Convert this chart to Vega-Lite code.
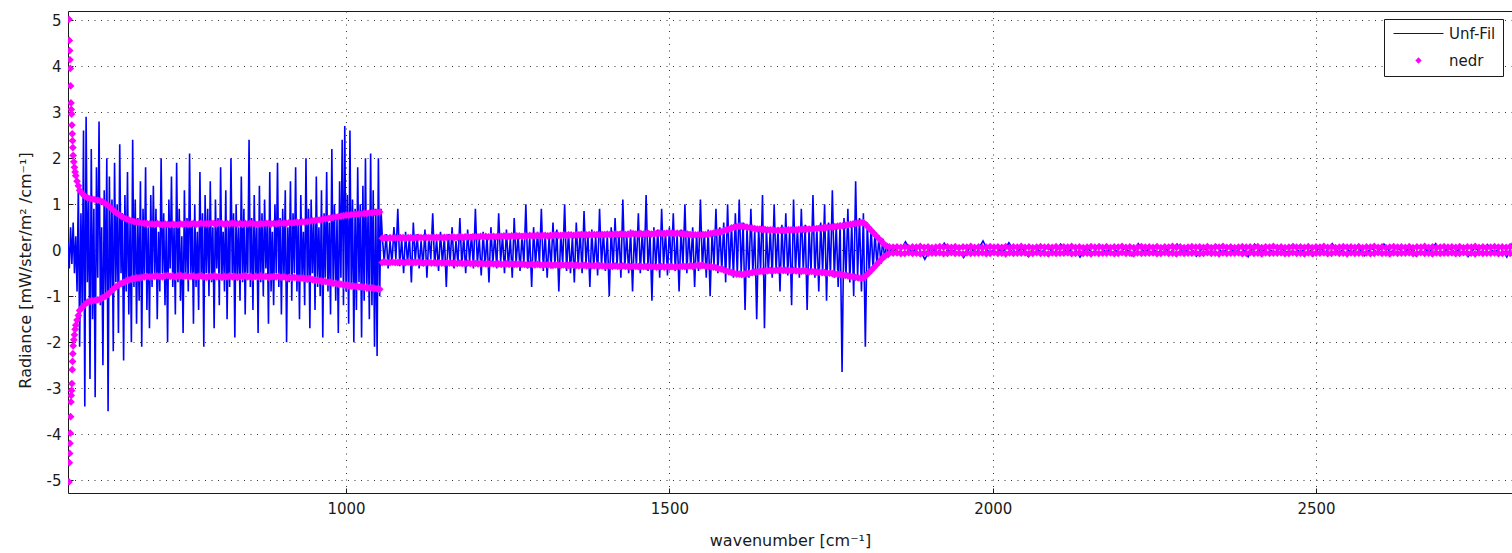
{
"$schema": "https://vega.github.io/schema/vega-lite/v6.json",
"width": 1444, "height": 482,
"autosize": {"type": "none"},
"padding": {"left": 68, "top": 11, "right": 0, "bottom": 60},
"background": "white",
"config": {
 "view": {"stroke": "#1a1a1a", "strokeWidth": 1},
 "font": "DejaVu Sans",
 "axis": {"grid": true, "gridDash": [1, 5.5], "gridColor": "#333", "gridWidth": 1, "domain": false, "ticks": true, "tickSize": -5, "tickColor": "#1a1a1a", "labelFontSize": 15, "labelColor": "#1a1a1a", "titleFontSize": 16, "titleFontWeight": "normal", "titleColor": "#1a1a1a", "labelFont": "DejaVu Sans", "titleFont": "DejaVu Sans", "labelExpr": "'' + datum.value"},
 "legend": {"title": null, "orient": "none", "legendX": 1316, "legendY": 8, "padding": 7, "strokeColor": "#1a1a1a", "fillColor": "white", "cornerRadius": 0, "symbolType": "stroke", "symbolSize": 100, "symbolOffset": 20, "symbolStrokeWidth": 0, "labelFontSize": 15, "labelColor": "#1a1a1a", "labelFont": "DejaVu Sans", "labelOffset": 23, "rowPadding": 11}
},
"datasets": {
"sig": [
{"w":570,"r":0.2},{"w":572,"r":-0.4},{"w":574,"r":0.5},{"w":576,"r":-0.3},{"w":578,"r":0.6},{"w":580,"r":-0.5},{"w":582,"r":0.3},{"w":584,"r":-0.9},
{"w":586,"r":1.4},{"w":588,"r":-2.1},{"w":590,"r":0.8},{"w":592,"r":-1.3},{"w":594,"r":2.6},{"w":596,"r":-3.4},{"w":598,"r":2.9},{"w":600,"r":-0.7},{"w":602,"r":1.1},{"w":604,"r":-2.8},{"w":606,"r":2.2},{"w":608,"r":-1.5},{"w":610,"r":0.9},{"w":612,"r":-3.2},{"w":614,"r":1.8},{"w":616,"r":-0.6},{"w":618,"r":2.8},{"w":620,"r":-1.2},{"w":622,"r":0.5},{"w":624,"r":-2.5},{"w":626,"r":1.3},{"w":628,"r":-1.0},{"w":630,"r":2.0},{"w":632,"r":-3.5},{"w":634,"r":1.6},{"w":636,"r":-0.9},{"w":638,"r":1.1},{"w":640,"r":-2.2},
{"w":642,"r":1.9},{"w":644,"r":-0.7},{"w":646,"r":1.0},{"w":648,"r":-1.8},{"w":650,"r":2.3},{"w":652,"r":-0.5},{"w":654,"r":0.8},{"w":656,"r":-2.4},{"w":658,"r":1.2},{"w":660,"r":-0.9},{"w":662,"r":1.7},{"w":664,"r":-1.4},{"w":666,"r":0.6},{"w":668,"r":-2.0},{"w":670,"r":2.4},{"w":672,"r":-0.8},{"w":674,"r":1.1},{"w":676,"r":-1.6},{"w":678,"r":0.7},{"w":680,"r":-1.1},{"w":682,"r":1.5},{"w":684,"r":-2.1},{"w":686,"r":0.9},{"w":688,"r":-0.6},{"w":690,"r":1.8},{"w":692,"r":-1.3},{"w":694,"r":0.5},{"w":696,"r":-1.7},{"w":698,"r":1.2},{"w":700,"r":-0.8},
{"w":702,"r":1.4},{"w":704,"r":-0.6},{"w":706,"r":0.9},{"w":708,"r":-1.5},{"w":710,"r":0.4},{"w":712,"r":-0.9},{"w":714,"r":2.0},{"w":716,"r":-0.5},{"w":718,"r":0.8},{"w":720,"r":-1.2},
{"w":722,"r":0.6},{"w":724,"r":-2.0},{"w":726,"r":1.1},{"w":728,"r":-0.4},{"w":730,"r":1.6},{"w":732,"r":-0.8},{"w":734,"r":0.5},{"w":736,"r":-1.4},{"w":738,"r":1.9},{"w":740,"r":-0.7},
{"w":742,"r":0.9},{"w":744,"r":-1.1},{"w":746,"r":0.3},{"w":748,"r":-1.8},{"w":750,"r":1.3},{"w":752,"r":-0.6},{"w":754,"r":0.7},{"w":756,"r":-0.9},{"w":758,"r":2.1},{"w":760,"r":-0.5},
{"w":762,"r":0.6},{"w":764,"r":-1.6},{"w":766,"r":1.0},{"w":768,"r":-0.8},{"w":770,"r":0.4},{"w":772,"r":-1.3},{"w":774,"r":1.7},{"w":776,"r":-0.6},{"w":778,"r":0.8},{"w":780,"r":-2.1},
{"w":782,"r":1.2},{"w":784,"r":-0.5},{"w":786,"r":0.9},{"w":788,"r":-1.0},{"w":790,"r":1.5},{"w":792,"r":-0.7},{"w":794,"r":0.5},{"w":796,"r":-1.7},{"w":798,"r":1.1},{"w":800,"r":-0.4},
{"w":802,"r":0.7},{"w":804,"r":-1.2},{"w":806,"r":1.8},{"w":808,"r":-0.6},{"w":810,"r":0.4},{"w":812,"r":-0.9},{"w":814,"r":1.3},{"w":816,"r":-1.5},{"w":818,"r":0.6},{"w":820,"r":-0.8},
{"w":822,"r":2.0},{"w":824,"r":-0.5},{"w":826,"r":0.8},{"w":828,"r":-1.9},{"w":830,"r":1.0},{"w":832,"r":-0.6},{"w":834,"r":0.5},{"w":836,"r":-1.1},{"w":838,"r":1.6},{"w":840,"r":-0.7},
{"w":842,"r":0.9},{"w":844,"r":-1.4},{"w":846,"r":0.6},{"w":848,"r":-0.5},{"w":850,"r":2.4},{"w":852,"r":-0.8},{"w":854,"r":0.7},{"w":856,"r":-1.3},{"w":858,"r":1.2},{"w":860,"r":-0.6},
{"w":862,"r":0.5},{"w":864,"r":-1.8},{"w":866,"r":1.4},{"w":868,"r":-0.7},{"w":870,"r":0.8},{"w":872,"r":-1.0},{"w":874,"r":1.1},{"w":876,"r":-0.4},{"w":878,"r":0.6},{"w":880,"r":-1.6},
{"w":882,"r":1.7},{"w":884,"r":-0.9},{"w":886,"r":0.4},{"w":888,"r":-1.2},{"w":890,"r":1.0},{"w":892,"r":-0.5},{"w":894,"r":1.9},{"w":896,"r":-0.8},{"w":898,"r":0.7},{"w":900,"r":-1.4},
{"w":902,"r":0.9},{"w":904,"r":-0.6},{"w":906,"r":1.3},{"w":908,"r":-2.0},{"w":910,"r":0.5},{"w":912,"r":-0.7},{"w":914,"r":1.5},{"w":916,"r":-1.1},{"w":918,"r":0.8},{"w":920,"r":-0.5},
{"w":922,"r":1.8},{"w":924,"r":-0.9},{"w":926,"r":0.6},{"w":928,"r":-1.5},{"w":930,"r":1.2},{"w":932,"r":-0.6},{"w":934,"r":0.4},{"w":936,"r":-1.2},{"w":938,"r":2.0},{"w":940,"r":-0.7},
{"w":942,"r":0.9},{"w":944,"r":-1.7},{"w":946,"r":1.1},{"w":948,"r":-0.5},{"w":950,"r":0.7},{"w":952,"r":-1.3},{"w":954,"r":1.6},{"w":956,"r":-0.8},{"w":958,"r":0.5},{"w":960,"r":-1.0},
{"w":962,"r":1.3},{"w":964,"r":-1.9},{"w":966,"r":0.8},{"w":968,"r":-0.6},{"w":970,"r":1.7},{"w":972,"r":-0.9},{"w":974,"r":0.6},{"w":976,"r":-1.4},{"w":978,"r":2.2},{"w":980,"r":-0.7},
{"w":982,"r":1.0},{"w":984,"r":-1.1},{"w":986,"r":0.7},{"w":988,"r":-1.8},{"w":990,"r":1.5},{"w":992,"r":-0.6},{"w":994,"r":2.4},{"w":996,"r":-1.2},{"w":998,"r":2.7},{"w":1000,"r":-0.9},
{"w":1002,"r":1.2},{"w":1004,"r":-1.6},{"w":1006,"r":2.6},{"w":1008,"r":-0.8},{"w":1010,"r":1.1},{"w":1012,"r":-2.0},{"w":1014,"r":0.9},{"w":1016,"r":-1.3},{"w":1018,"r":1.8},{"w":1020,"r":-0.7},
{"w":1022,"r":1.0},{"w":1024,"r":-1.9},{"w":1026,"r":1.4},{"w":1028,"r":-1.1},{"w":1030,"r":2.0},{"w":1032,"r":-0.9},{"w":1034,"r":0.8},{"w":1036,"r":-1.5},{"w":1038,"r":2.1},{"w":1040,"r":-1.2},
{"w":1042,"r":1.3},{"w":1044,"r":-2.1},{"w":1046,"r":0.9},{"w":1048,"r":-2.3},{"w":1050,"r":2.0},{"w":1052,"r":-1.0},{"w":1054,"r":0.9},
{"w":1056,"r":0.3},{"w":1059,"r":-0.25},{"w":1062,"r":0.35},{"w":1065,"r":-0.4},{"w":1068,"r":0.2},{"w":1071,"r":-0.3},{"w":1074,"r":0.5},{"w":1077,"r":-0.2},{"w":1080,"r":0.9},{"w":1083,"r":-0.35},
{"w":1086,"r":0.25},{"w":1089,"r":-0.5},{"w":1092,"r":0.4},{"w":1095,"r":-0.3},{"w":1098,"r":0.3},{"w":1101,"r":-0.7},{"w":1104,"r":0.6},{"w":1107,"r":-0.25},{"w":1110,"r":0.35},{"w":1113,"r":-0.4},
{"w":1116,"r":0.2},{"w":1119,"r":-0.35},{"w":1122,"r":0.45},{"w":1125,"r":-0.6},{"w":1128,"r":0.3},{"w":1131,"r":-0.2},{"w":1134,"r":0.8},{"w":1137,"r":-0.35},{"w":1140,"r":0.25},{"w":1143,"r":-0.45},
{"w":1146,"r":0.4},{"w":1149,"r":-0.3},{"w":1152,"r":0.3},{"w":1155,"r":-0.8},{"w":1158,"r":0.35},{"w":1161,"r":-0.25},{"w":1164,"r":0.5},{"w":1167,"r":-0.4},{"w":1170,"r":0.2},{"w":1173,"r":-0.3},
{"w":1176,"r":0.7},{"w":1179,"r":-0.35},{"w":1182,"r":0.3},{"w":1185,"r":-0.5},{"w":1188,"r":0.45},{"w":1191,"r":-0.25},{"w":1194,"r":0.35},{"w":1197,"r":-0.4},{"w":1200,"r":0.9},{"w":1203,"r":-0.3},
{"w":1206,"r":0.25},{"w":1209,"r":-0.55},{"w":1212,"r":0.4},{"w":1215,"r":-0.35},{"w":1218,"r":0.3},{"w":1221,"r":-0.7},{"w":1224,"r":0.5},{"w":1227,"r":-0.3},{"w":1230,"r":0.35},{"w":1233,"r":-0.4},
{"w":1236,"r":0.8},{"w":1239,"r":-0.25},{"w":1242,"r":0.3},{"w":1245,"r":-0.5},{"w":1248,"r":0.45},{"w":1251,"r":-0.35},{"w":1254,"r":0.25},{"w":1257,"r":-0.6},{"w":1260,"r":0.7},{"w":1263,"r":-0.3},
{"w":1266,"r":0.35},{"w":1269,"r":-0.45},{"w":1272,"r":0.3},{"w":1275,"r":-0.3},{"w":1278,"r":1.0},{"w":1281,"r":-0.4},{"w":1284,"r":0.3},{"w":1287,"r":-0.8},{"w":1290,"r":0.5},{"w":1293,"r":-0.35},
{"w":1296,"r":0.4},{"w":1299,"r":-0.3},{"w":1302,"r":0.9},{"w":1305,"r":-0.45},{"w":1308,"r":0.35},{"w":1311,"r":-0.6},{"w":1314,"r":0.3},{"w":1317,"r":-0.4},{"w":1320,"r":0.6},{"w":1323,"r":-0.35},
{"w":1326,"r":0.45},{"w":1329,"r":-0.9},{"w":1332,"r":0.35},{"w":1335,"r":-0.3},{"w":1338,"r":1.0},{"w":1341,"r":-0.45},{"w":1344,"r":0.4},{"w":1347,"r":-0.5},{"w":1350,"r":0.3},{"w":1353,"r":-0.7},
{"w":1356,"r":0.6},{"w":1359,"r":-0.35},{"w":1362,"r":0.4},{"w":1365,"r":-0.5},{"w":1368,"r":0.85},{"w":1371,"r":-0.3},{"w":1374,"r":0.35},{"w":1377,"r":-0.8},{"w":1380,"r":0.45},{"w":1383,"r":-0.4},
{"w":1386,"r":0.3},{"w":1389,"r":-0.55},{"w":1392,"r":0.9},{"w":1395,"r":-0.35},{"w":1398,"r":0.4},{"w":1401,"r":-0.45},{"w":1404,"r":0.35},{"w":1407,"r":-1.0},{"w":1410,"r":0.5},{"w":1413,"r":-0.4},
{"w":1416,"r":0.7},{"w":1419,"r":-0.35},{"w":1422,"r":0.4},{"w":1425,"r":-0.6},{"w":1428,"r":1.1},{"w":1431,"r":-0.4},{"w":1434,"r":0.35},{"w":1437,"r":-0.5},{"w":1440,"r":0.45},{"w":1443,"r":-0.9},
{"w":1446,"r":0.4},{"w":1449,"r":-0.35},{"w":1452,"r":0.8},{"w":1455,"r":-0.5},{"w":1458,"r":0.4},{"w":1461,"r":-0.4},{"w":1464,"r":1.2},{"w":1467,"r":-0.45},{"w":1470,"r":0.35},{"w":1473,"r":-1.1},
{"w":1476,"r":0.5},{"w":1479,"r":-0.4},{"w":1482,"r":0.45},{"w":1485,"r":-0.6},{"w":1488,"r":0.9},{"w":1491,"r":-0.35},{"w":1494,"r":0.4},{"w":1497,"r":-0.55},{"w":1500,"r":0.5},{"w":1503,"r":-0.4},
{"w":1506,"r":0.8},{"w":1509,"r":-0.45},{"w":1512,"r":0.35},{"w":1515,"r":-0.9},{"w":1518,"r":0.45},{"w":1521,"r":-0.35},{"w":1524,"r":1.0},{"w":1527,"r":-0.5},{"w":1530,"r":0.4},{"w":1533,"r":-0.4},
{"w":1536,"r":0.5},{"w":1539,"r":-0.8},{"w":1542,"r":0.35},{"w":1545,"r":-0.45},{"w":1548,"r":1.1},{"w":1551,"r":-0.4},{"w":1554,"r":0.4},{"w":1557,"r":-0.6},{"w":1560,"r":0.45},{"w":1563,"r":-1.0},
{"w":1566,"r":0.4},{"w":1569,"r":-0.35},{"w":1572,"r":0.9},{"w":1575,"r":-0.5},{"w":1578,"r":0.5},{"w":1581,"r":-0.45},{"w":1584,"r":0.6},{"w":1587,"r":-0.7},{"w":1590,"r":1.0},{"w":1593,"r":-0.5},
{"w":1596,"r":0.55},{"w":1599,"r":-0.6},{"w":1602,"r":0.8},{"w":1605,"r":-0.55},{"w":1608,"r":1.1},{"w":1611,"r":-0.5},{"w":1614,"r":0.6},{"w":1617,"r":-1.3},{"w":1620,"r":0.5},{"w":1623,"r":-0.6},
{"w":1626,"r":0.9},{"w":1629,"r":-0.5},{"w":1632,"r":0.45},{"w":1635,"r":-1.5},{"w":1638,"r":0.5},{"w":1641,"r":-0.45},{"w":1644,"r":1.2},{"w":1647,"r":-1.7},{"w":1650,"r":0.5},{"w":1653,"r":-0.5},
{"w":1656,"r":0.45},{"w":1659,"r":-0.6},{"w":1662,"r":1.0},{"w":1665,"r":-0.45},{"w":1668,"r":0.5},{"w":1671,"r":-0.9},{"w":1674,"r":0.55},{"w":1677,"r":-0.5},{"w":1680,"r":0.8},{"w":1683,"r":-0.55},
{"w":1686,"r":0.45},{"w":1689,"r":-1.2},{"w":1692,"r":1.1},{"w":1695,"r":-0.5},{"w":1698,"r":0.5},{"w":1701,"r":-0.6},{"w":1704,"r":0.9},{"w":1707,"r":-0.45},{"w":1710,"r":0.55},{"w":1713,"r":-1.3},
{"w":1716,"r":0.5},{"w":1719,"r":-0.5},{"w":1722,"r":1.2},{"w":1725,"r":-0.6},{"w":1728,"r":0.5},{"w":1731,"r":-0.9},{"w":1734,"r":0.6},{"w":1737,"r":-0.5},{"w":1740,"r":1.0},{"w":1743,"r":-1.1},
{"w":1746,"r":0.6},{"w":1749,"r":-0.55},{"w":1752,"r":1.3},{"w":1755,"r":-0.6},{"w":1758,"r":0.55},{"w":1761,"r":-0.8},{"w":1764,"r":0.6},{"w":1767,"r":-2.65},{"w":1770,"r":0.7},{"w":1773,"r":-0.6},
{"w":1776,"r":0.9},{"w":1779,"r":-0.7},{"w":1782,"r":0.6},{"w":1785,"r":-1.0},{"w":1788,"r":1.5},{"w":1791,"r":-0.6},{"w":1794,"r":0.7},{"w":1797,"r":-0.9},{"w":1800,"r":0.8},{"w":1803,"r":-2.1},
{"w":1806,"r":0.6},{"w":1809,"r":-0.5},{"w":1812,"r":0.5},{"w":1815,"r":-0.45},{"w":1818,"r":0.4},{"w":1821,"r":-0.35},{"w":1824,"r":0.3},{"w":1827,"r":-0.3},{"w":1830,"r":0.25},{"w":1833,"r":-0.2},
{"w":1836,"r":0.15},{"w":1839,"r":-0.12},
{"w":1845,"r":0.08},{"w":1855,"r":-0.06},{"w":1865,"r":0.18},{"w":1875,"r":-0.05},{"w":1885,"r":0.07},{"w":1895,"r":-0.2},{"w":1905,"r":0.06},{"w":1915,"r":-0.05},{"w":1925,"r":0.15},{"w":1935,"r":-0.07},
{"w":1945,"r":0.05},{"w":1955,"r":-0.16},{"w":1965,"r":0.06},{"w":1975,"r":-0.05},{"w":1985,"r":0.2},{"w":1995,"r":-0.08},{"w":2005,"r":0.06},{"w":2015,"r":-0.05},{"w":2025,"r":0.16},{"w":2035,"r":-0.06},
{"w":2045,"r":0.05},{"w":2055,"r":-0.14},{"w":2065,"r":0.07},{"w":2075,"r":-0.05},{"w":2085,"r":0.06},{"w":2095,"r":-0.06},{"w":2105,"r":0.13},{"w":2115,"r":-0.05},{"w":2125,"r":0.06},{"w":2135,"r":-0.15},
{"w":2145,"r":0.05},{"w":2155,"r":-0.06},{"w":2165,"r":0.12},{"w":2175,"r":-0.05},{"w":2185,"r":0.06},{"w":2195,"r":-0.07},{"w":2205,"r":0.05},{"w":2215,"r":-0.12},{"w":2225,"r":0.14},{"w":2235,"r":-0.05},
{"w":2245,"r":0.06},{"w":2255,"r":-0.06},{"w":2265,"r":0.05},{"w":2275,"r":-0.05},{"w":2285,"r":0.13},{"w":2295,"r":-0.06},{"w":2305,"r":0.05},{"w":2315,"r":-0.13},{"w":2325,"r":0.06},{"w":2335,"r":-0.05},
{"w":2345,"r":0.12},{"w":2355,"r":-0.06},{"w":2365,"r":0.05},{"w":2375,"r":-0.05},{"w":2385,"r":0.06},{"w":2395,"r":-0.14},{"w":2405,"r":0.13},{"w":2415,"r":-0.05},{"w":2425,"r":0.06},{"w":2435,"r":-0.06},
{"w":2445,"r":0.05},{"w":2455,"r":-0.05},{"w":2465,"r":0.12},{"w":2475,"r":-0.06},{"w":2485,"r":0.06},{"w":2495,"r":-0.13},{"w":2505,"r":0.05},{"w":2515,"r":-0.05},{"w":2525,"r":0.14},{"w":2535,"r":-0.06},
{"w":2545,"r":0.05},{"w":2555,"r":-0.05},{"w":2565,"r":0.06},{"w":2575,"r":-0.12},{"w":2585,"r":0.05},{"w":2595,"r":-0.06},{"w":2605,"r":0.13},{"w":2615,"r":-0.05},{"w":2625,"r":0.06},{"w":2635,"r":-0.05},
{"w":2645,"r":0.05},{"w":2655,"r":-0.13},{"w":2665,"r":0.06},{"w":2675,"r":-0.05},{"w":2685,"r":0.14},{"w":2695,"r":-0.06},{"w":2705,"r":0.05},{"w":2715,"r":-0.05},{"w":2725,"r":0.06},{"w":2735,"r":-0.14},
{"w":2745,"r":0.05},{"w":2755,"r":-0.05},{"w":2765,"r":0.12},{"w":2775,"r":-0.06},{"w":2785,"r":0.06},{"w":2795,"r":-0.15},{"w":2805,"r":0.2}
],
"ne": [
{"w":571.5,"p":5.02,"m":-5.04},{"w":572,"p":4.56,"m":-4.62},{"w":572.5,"p":4.34,"m":-4.42},{"w":573,"p":4.14,"m":-4.2},{"w":573.5,"p":3.95,"m":-3.98},{"w":574,"p":3.57,"m":-3.62},{"w":574.5,"p":3.2,"m":-3.3},{"w":575,"p":3.06,"m":-3.16},{"w":575.5,"p":2.96,"m":-3.05},{"w":576,"p":2.72,"m":-2.9},{"w":576.5,"p":2.53,"m":-2.6},{"w":577,"p":2.38,"m":-2.42},{"w":577.5,"p":2.23,"m":-2.25},{"w":578,"p":2.06,"m":-2.08},{"w":579,"p":1.92,"m":-1.95},{"w":580,"p":1.8,"m":-1.84},{"w":581,"p":1.7,"m":-1.72},{"w":582,"p":1.62,"m":-1.63},{"w":584,"p":1.5,"m":-1.52},{"w":586,"p":1.4,"m":-1.42},
{"w":588,"p":1.3,"m":-1.31},{"w":592,"p":1.23,"m":-1.24},{"w":596,"p":1.17,"m":-1.18},{"w":600,"p":1.14,"m":-1.13},{"w":604,"p":1.12,"m":-1.11},{"w":608,"p":1.11,"m":-1.1},{"w":612,"p":1.1,"m":-1.09},{"w":616,"p":1.09,"m":-1.08},{"w":620,"p":1.07,"m":-1.06},{"w":624,"p":1.05,"m":-1.03},{"w":628,"p":1.01,"m":-1.0},{"w":632,"p":0.97,"m":-0.96},{"w":636,"p":0.92,"m":-0.9},{"w":640,"p":0.87,"m":-0.85},{"w":644,"p":0.82,"m":-0.8},{"w":648,"p":0.78,"m":-0.76},{"w":652,"p":0.74,"m":-0.73},{"w":656,"p":0.71,"m":-0.7},{"w":660,"p":0.68,"m":-0.67},{"w":664,"p":0.66,"m":-0.65},{"w":668,"p":0.64,"m":-0.63},{"w":672,"p":0.62,"m":-0.62},{"w":676,"p":0.61,"m":-0.6},{"w":680,"p":0.6,"m":-0.6},{"w":684,"p":0.59,"m":-0.59},{"w":688,"p":0.58,"m":-0.58},{"w":692,"p":0.58,"m":-0.57},{"w":696,"p":0.57,"m":-0.58},
{"w":700,"p":0.57,"m":-0.58},{"w":704,"p":0.56,"m":-0.57},{"w":708,"p":0.58,"m":-0.56},{"w":712,"p":0.56,"m":-0.57},{"w":716,"p":0.55,"m":-0.58},{"w":720,"p":0.57,"m":-0.56},{"w":724,"p":0.56,"m":-0.55},{"w":728,"p":0.55,"m":-0.57},{"w":732,"p":0.57,"m":-0.56},{"w":736,"p":0.56,"m":-0.58},{"w":740,"p":0.55,"m":-0.56},{"w":744,"p":0.57,"m":-0.55},{"w":748,"p":0.56,"m":-0.57},{"w":752,"p":0.58,"m":-0.56},{"w":756,"p":0.56,"m":-0.58},{"w":760,"p":0.57,"m":-0.57},{"w":764,"p":0.58,"m":-0.56},{"w":768,"p":0.56,"m":-0.58},{"w":772,"p":0.57,"m":-0.57},{"w":776,"p":0.59,"m":-0.56},{"w":780,"p":0.57,"m":-0.58},{"w":784,"p":0.58,"m":-0.59},{"w":788,"p":0.57,"m":-0.57},{"w":792,"p":0.59,"m":-0.58},{"w":796,"p":0.58,"m":-0.56},{"w":800,"p":0.57,"m":-0.58},{"w":804,"p":0.59,"m":-0.57},{"w":808,"p":0.58,"m":-0.59},{"w":812,"p":0.56,"m":-0.57},{"w":816,"p":0.58,"m":-0.58},{"w":820,"p":0.57,"m":-0.56},{"w":824,"p":0.59,"m":-0.58},{"w":828,"p":0.58,"m":-0.57},{"w":832,"p":0.57,"m":-0.59},{"w":836,"p":0.58,"m":-0.58},{"w":840,"p":0.56,"m":-0.57},{"w":844,"p":0.58,"m":-0.56},{"w":848,"p":0.57,"m":-0.58},{"w":852,"p":0.59,"m":-0.57},{"w":856,"p":0.58,"m":-0.59},{"w":860,"p":0.57,"m":-0.57},{"w":864,"p":0.56,"m":-0.58},{"w":868,"p":0.58,"m":-0.56},{"w":872,"p":0.57,"m":-0.58},{"w":876,"p":0.59,"m":-0.57},{"w":880,"p":0.58,"m":-0.59},{"w":884,"p":0.57,"m":-0.58},{"w":888,"p":0.58,"m":-0.57},{"w":892,"p":0.57,"m":-0.58},{"w":896,"p":0.59,"m":-0.57},{"w":900,"p":0.58,"m":-0.59},{"w":904,"p":0.59,"m":-0.58},{"w":908,"p":0.58,"m":-0.6},{"w":912,"p":0.6,"m":-0.59},{"w":916,"p":0.59,"m":-0.6},{"w":920,"p":0.6,"m":-0.59},{"w":924,"p":0.61,"m":-0.6},{"w":928,"p":0.6,"m":-0.61},{"w":932,"p":0.62,"m":-0.61},{"w":936,"p":0.61,"m":-0.62},{"w":940,"p":0.62,"m":-0.63},{"w":944,"p":0.63,"m":-0.62},{"w":948,"p":0.64,"m":-0.64},{"w":952,"p":0.64,"m":-0.65},{"w":956,"p":0.66,"m":-0.65},{"w":960,"p":0.66,"m":-0.67},{"w":964,"p":0.67,"m":-0.68},{"w":968,"p":0.68,"m":-0.68},{"w":972,"p":0.69,"m":-0.7},{"w":976,"p":0.7,"m":-0.7},{"w":980,"p":0.71,"m":-0.72},{"w":984,"p":0.72,"m":-0.72},{"w":988,"p":0.73,"m":-0.74},{"w":992,"p":0.74,"m":-0.74},{"w":996,"p":0.75,"m":-0.76},{"w":1000,"p":0.76,"m":-0.76},{"w":1004,"p":0.76,"m":-0.77},{"w":1008,"p":0.77,"m":-0.78},{"w":1012,"p":0.78,"m":-0.78},{"w":1016,"p":0.78,"m":-0.79},{"w":1020,"p":0.79,"m":-0.8},{"w":1024,"p":0.79,"m":-0.8},{"w":1028,"p":0.8,"m":-0.81},{"w":1032,"p":0.8,"m":-0.81},{"w":1036,"p":0.81,"m":-0.82},{"w":1040,"p":0.81,"m":-0.82},{"w":1044,"p":0.82,"m":-0.83},{"w":1048,"p":0.82,"m":-0.84},{"w":1052,"p":0.83,"m":-0.85},
{"w":1056,"p":0.26,"m":-0.27},{"w":1060,"p":0.27,"m":-0.26},{"w":1064,"p":0.26,"m":-0.27},{"w":1068,"p":0.27,"m":-0.27},{"w":1072,"p":0.26,"m":-0.26},{"w":1076,"p":0.27,"m":-0.27},{"w":1080,"p":0.26,"m":-0.27},{"w":1084,"p":0.27,"m":-0.26},{"w":1088,"p":0.27,"m":-0.27},{"w":1092,"p":0.26,"m":-0.27},{"w":1096,"p":0.27,"m":-0.26},{"w":1100,"p":0.27,"m":-0.27},{"w":1104,"p":0.26,"m":-0.27},{"w":1108,"p":0.27,"m":-0.27},{"w":1112,"p":0.28,"m":-0.26},{"w":1116,"p":0.27,"m":-0.27},{"w":1120,"p":0.27,"m":-0.28},{"w":1124,"p":0.28,"m":-0.27},{"w":1128,"p":0.27,"m":-0.27},{"w":1132,"p":0.28,"m":-0.28},{"w":1136,"p":0.27,"m":-0.27},{"w":1140,"p":0.28,"m":-0.28},{"w":1144,"p":0.28,"m":-0.27},{"w":1148,"p":0.27,"m":-0.28},{"w":1152,"p":0.28,"m":-0.28},{"w":1156,"p":0.28,"m":-0.27},{"w":1160,"p":0.28,"m":-0.28},{"w":1164,"p":0.29,"m":-0.28},{"w":1168,"p":0.28,"m":-0.28},{"w":1172,"p":0.28,"m":-0.29},{"w":1176,"p":0.29,"m":-0.28},{"w":1180,"p":0.28,"m":-0.29},{"w":1184,"p":0.29,"m":-0.29},{"w":1188,"p":0.29,"m":-0.28},{"w":1192,"p":0.28,"m":-0.29},{"w":1196,"p":0.29,"m":-0.29},{"w":1200,"p":0.29,"m":-0.29},{"w":1204,"p":0.29,"m":-0.3},{"w":1208,"p":0.3,"m":-0.29},{"w":1212,"p":0.29,"m":-0.29},{"w":1216,"p":0.3,"m":-0.3},{"w":1220,"p":0.29,"m":-0.3},{"w":1224,"p":0.3,"m":-0.29},{"w":1228,"p":0.3,"m":-0.3},{"w":1232,"p":0.29,"m":-0.3},{"w":1236,"p":0.3,"m":-0.3},{"w":1240,"p":0.3,"m":-0.31},{"w":1244,"p":0.31,"m":-0.3},{"w":1248,"p":0.3,"m":-0.3},{"w":1252,"p":0.3,"m":-0.31},{"w":1256,"p":0.31,"m":-0.3},{"w":1260,"p":0.3,"m":-0.31},{"w":1264,"p":0.31,"m":-0.31},{"w":1268,"p":0.31,"m":-0.3},{"w":1272,"p":0.3,"m":-0.31},{"w":1276,"p":0.31,"m":-0.31},{"w":1280,"p":0.31,"m":-0.32},{"w":1284,"p":0.32,"m":-0.31},{"w":1288,"p":0.31,"m":-0.31},{"w":1292,"p":0.31,"m":-0.32},{"w":1296,"p":0.32,"m":-0.31},{"w":1300,"p":0.31,"m":-0.32},{"w":1304,"p":0.32,"m":-0.32},{"w":1308,"p":0.32,"m":-0.31},{"w":1312,"p":0.31,"m":-0.32},{"w":1316,"p":0.32,"m":-0.32},{"w":1320,"p":0.32,"m":-0.33},{"w":1324,"p":0.33,"m":-0.32},{"w":1328,"p":0.32,"m":-0.32},{"w":1332,"p":0.32,"m":-0.33},{"w":1336,"p":0.33,"m":-0.32},{"w":1340,"p":0.32,"m":-0.33},{"w":1344,"p":0.33,"m":-0.33},{"w":1348,"p":0.33,"m":-0.32},{"w":1352,"p":0.32,"m":-0.33},{"w":1356,"p":0.33,"m":-0.33},{"w":1360,"p":0.33,"m":-0.34},{"w":1364,"p":0.34,"m":-0.33},{"w":1368,"p":0.33,"m":-0.33},{"w":1372,"p":0.33,"m":-0.34},{"w":1376,"p":0.34,"m":-0.33},{"w":1380,"p":0.33,"m":-0.34},{"w":1384,"p":0.34,"m":-0.34},{"w":1388,"p":0.34,"m":-0.33},{"w":1392,"p":0.33,"m":-0.34},{"w":1396,"p":0.34,"m":-0.34},{"w":1400,"p":0.34,"m":-0.35},{"w":1404,"p":0.35,"m":-0.34},{"w":1408,"p":0.34,"m":-0.34},{"w":1412,"p":0.34,"m":-0.35},{"w":1416,"p":0.35,"m":-0.34},{"w":1420,"p":0.34,"m":-0.35},{"w":1424,"p":0.35,"m":-0.35},{"w":1428,"p":0.35,"m":-0.34},{"w":1432,"p":0.34,"m":-0.35},{"w":1436,"p":0.35,"m":-0.35},{"w":1440,"p":0.35,"m":-0.36},{"w":1444,"p":0.36,"m":-0.35},{"w":1448,"p":0.35,"m":-0.35},{"w":1452,"p":0.35,"m":-0.36},{"w":1456,"p":0.36,"m":-0.35},{"w":1460,"p":0.35,"m":-0.36},{"w":1464,"p":0.36,"m":-0.36},{"w":1468,"p":0.36,"m":-0.35},{"w":1472,"p":0.35,"m":-0.36},{"w":1476,"p":0.36,"m":-0.36},{"w":1480,"p":0.36,"m":-0.37},{"w":1484,"p":0.37,"m":-0.36},{"w":1488,"p":0.36,"m":-0.36},{"w":1492,"p":0.36,"m":-0.37},{"w":1496,"p":0.37,"m":-0.36},{"w":1500,"p":0.37,"m":-0.37},
{"w":1504,"p":0.37,"m":-0.36},{"w":1508,"p":0.36,"m":-0.37},{"w":1512,"p":0.37,"m":-0.36},{"w":1516,"p":0.36,"m":-0.36},{"w":1520,"p":0.36,"m":-0.35},{"w":1524,"p":0.35,"m":-0.36},{"w":1528,"p":0.35,"m":-0.35},{"w":1532,"p":0.34,"m":-0.34},{"w":1536,"p":0.34,"m":-0.35},{"w":1540,"p":0.33,"m":-0.34},{"w":1544,"p":0.33,"m":-0.33},{"w":1548,"p":0.33,"m":-0.34},{"w":1552,"p":0.34,"m":-0.33},{"w":1556,"p":0.34,"m":-0.35},{"w":1560,"p":0.35,"m":-0.35},{"w":1564,"p":0.36,"m":-0.36},{"w":1568,"p":0.37,"m":-0.37},{"w":1572,"p":0.38,"m":-0.38},{"w":1576,"p":0.39,"m":-0.4},{"w":1580,"p":0.4,"m":-0.41},{"w":1584,"p":0.42,"m":-0.43},{"w":1588,"p":0.44,"m":-0.45},{"w":1592,"p":0.46,"m":-0.47},{"w":1596,"p":0.48,"m":-0.49},{"w":1600,"p":0.5,"m":-0.5},{"w":1604,"p":0.51,"m":-0.52},{"w":1608,"p":0.52,"m":-0.52},{"w":1612,"p":0.52,"m":-0.53},{"w":1616,"p":0.51,"m":-0.52},{"w":1620,"p":0.5,"m":-0.51},{"w":1624,"p":0.49,"m":-0.5},{"w":1628,"p":0.48,"m":-0.49},{"w":1632,"p":0.47,"m":-0.48},{"w":1636,"p":0.46,"m":-0.47},{"w":1640,"p":0.46,"m":-0.46},{"w":1644,"p":0.45,"m":-0.46},{"w":1648,"p":0.45,"m":-0.45},{"w":1652,"p":0.44,"m":-0.45},{"w":1656,"p":0.44,"m":-0.44},{"w":1660,"p":0.44,"m":-0.45},{"w":1664,"p":0.43,"m":-0.44},{"w":1668,"p":0.43,"m":-0.44},{"w":1672,"p":0.43,"m":-0.43},{"w":1676,"p":0.43,"m":-0.44},{"w":1680,"p":0.43,"m":-0.44},{"w":1684,"p":0.44,"m":-0.44},{"w":1688,"p":0.44,"m":-0.45},{"w":1692,"p":0.44,"m":-0.44},{"w":1696,"p":0.44,"m":-0.45},{"w":1700,"p":0.45,"m":-0.45},{"w":1704,"p":0.45,"m":-0.46},{"w":1708,"p":0.45,"m":-0.45},{"w":1712,"p":0.46,"m":-0.46},{"w":1716,"p":0.46,"m":-0.47},{"w":1720,"p":0.46,"m":-0.46},{"w":1724,"p":0.47,"m":-0.47},{"w":1728,"p":0.47,"m":-0.48},{"w":1732,"p":0.48,"m":-0.48},{"w":1736,"p":0.48,"m":-0.49},{"w":1740,"p":0.49,"m":-0.49},{"w":1744,"p":0.49,"m":-0.5},{"w":1748,"p":0.5,"m":-0.5},{"w":1752,"p":0.5,"m":-0.51},{"w":1756,"p":0.51,"m":-0.52},{"w":1760,"p":0.52,"m":-0.52},{"w":1764,"p":0.52,"m":-0.53},{"w":1768,"p":0.53,"m":-0.54},{"w":1772,"p":0.54,"m":-0.55},{"w":1776,"p":0.55,"m":-0.56},{"w":1780,"p":0.56,"m":-0.57},{"w":1784,"p":0.57,"m":-0.58},{"w":1788,"p":0.58,"m":-0.59},{"w":1792,"p":0.59,"m":-0.6},{"w":1796,"p":0.6,"m":-0.61},{"w":1800,"p":0.6,"m":-0.6},
{"w":1804,"p":0.55,"m":-0.55},{"w":1808,"p":0.49,"m":-0.5},{"w":1812,"p":0.43,"m":-0.44},{"w":1816,"p":0.37,"m":-0.38},{"w":1820,"p":0.31,"m":-0.32},{"w":1824,"p":0.25,"m":-0.26},{"w":1828,"p":0.19,"m":-0.2},{"w":1832,"p":0.13,"m":-0.14},{"w":1836,"p":0.09,"m":-0.1},{"w":1840,"p":0.07,"m":-0.07},
{"w":1846,"p":0.065,"m":-0.065},{"w":1852,"p":0.07,"m":-0.06},{"w":1858,"p":0.06,"m":-0.075},{"w":1864,"p":0.075,"m":-0.07},{"w":1870,"p":0.055,"m":-0.055},{"w":1876,"p":0.07,"m":-0.07},{"w":1882,"p":0.065,"m":-0.065},{"w":1888,"p":0.08,"m":-0.08},{"w":1894,"p":0.06,"m":-0.06},{"w":1900,"p":0.07,"m":-0.07},
{"w":1906,"p":0.055,"m":-0.065},{"w":1912,"p":0.065,"m":-0.065},{"w":1918,"p":0.075,"m":-0.06},{"w":1924,"p":0.065,"m":-0.075},{"w":1930,"p":0.07,"m":-0.07},{"w":1936,"p":0.06,"m":-0.055},{"w":1942,"p":0.075,"m":-0.07},{"w":1948,"p":0.055,"m":-0.065},{"w":1954,"p":0.07,"m":-0.08},{"w":1960,"p":0.065,"m":-0.06},
{"w":1966,"p":0.08,"m":-0.07},{"w":1972,"p":0.06,"m":-0.065},{"w":1978,"p":0.07,"m":-0.065},{"w":1984,"p":0.055,"m":-0.06},{"w":1990,"p":0.065,"m":-0.075},{"w":1996,"p":0.075,"m":-0.07},{"w":2002,"p":0.065,"m":-0.055},{"w":2008,"p":0.07,"m":-0.07},{"w":2014,"p":0.06,"m":-0.065},{"w":2020,"p":0.075,"m":-0.08},
{"w":2026,"p":0.055,"m":-0.06},{"w":2032,"p":0.07,"m":-0.07},{"w":2038,"p":0.065,"m":-0.065},{"w":2044,"p":0.08,"m":-0.065},{"w":2050,"p":0.06,"m":-0.06},{"w":2056,"p":0.07,"m":-0.075},{"w":2062,"p":0.055,"m":-0.07},{"w":2068,"p":0.065,"m":-0.055},{"w":2074,"p":0.075,"m":-0.07},{"w":2080,"p":0.065,"m":-0.065},
{"w":2086,"p":0.07,"m":-0.08},{"w":2092,"p":0.06,"m":-0.06},{"w":2098,"p":0.075,"m":-0.07},{"w":2104,"p":0.055,"m":-0.065},{"w":2110,"p":0.07,"m":-0.065},{"w":2116,"p":0.065,"m":-0.06},{"w":2122,"p":0.08,"m":-0.075},{"w":2128,"p":0.06,"m":-0.07},{"w":2134,"p":0.07,"m":-0.055},{"w":2140,"p":0.055,"m":-0.07},
{"w":2146,"p":0.065,"m":-0.065},{"w":2152,"p":0.075,"m":-0.08},{"w":2158,"p":0.065,"m":-0.06},{"w":2164,"p":0.07,"m":-0.07},{"w":2170,"p":0.06,"m":-0.065},{"w":2176,"p":0.075,"m":-0.065},{"w":2182,"p":0.055,"m":-0.06},{"w":2188,"p":0.07,"m":-0.075},{"w":2194,"p":0.065,"m":-0.07},{"w":2200,"p":0.08,"m":-0.055},
{"w":2206,"p":0.06,"m":-0.07},{"w":2212,"p":0.07,"m":-0.065},{"w":2218,"p":0.055,"m":-0.08},{"w":2224,"p":0.065,"m":-0.06},{"w":2230,"p":0.075,"m":-0.07},{"w":2236,"p":0.065,"m":-0.065},{"w":2242,"p":0.07,"m":-0.065},{"w":2248,"p":0.06,"m":-0.06},{"w":2254,"p":0.075,"m":-0.075},{"w":2260,"p":0.055,"m":-0.07},
{"w":2266,"p":0.07,"m":-0.055},{"w":2272,"p":0.065,"m":-0.07},{"w":2278,"p":0.08,"m":-0.065},{"w":2284,"p":0.06,"m":-0.08},{"w":2290,"p":0.07,"m":-0.06},{"w":2296,"p":0.055,"m":-0.07},{"w":2302,"p":0.065,"m":-0.065},{"w":2308,"p":0.075,"m":-0.065},{"w":2314,"p":0.065,"m":-0.06},{"w":2320,"p":0.07,"m":-0.075},
{"w":2326,"p":0.06,"m":-0.07},{"w":2332,"p":0.075,"m":-0.055},{"w":2338,"p":0.055,"m":-0.07},{"w":2344,"p":0.07,"m":-0.065},{"w":2350,"p":0.065,"m":-0.08},{"w":2356,"p":0.08,"m":-0.06},{"w":2362,"p":0.06,"m":-0.07},{"w":2368,"p":0.07,"m":-0.065},{"w":2374,"p":0.055,"m":-0.065},{"w":2380,"p":0.065,"m":-0.06},
{"w":2386,"p":0.075,"m":-0.075},{"w":2392,"p":0.065,"m":-0.07},{"w":2398,"p":0.07,"m":-0.055},{"w":2404,"p":0.06,"m":-0.07},{"w":2410,"p":0.075,"m":-0.065},{"w":2416,"p":0.055,"m":-0.08},{"w":2422,"p":0.07,"m":-0.06},{"w":2428,"p":0.065,"m":-0.07},{"w":2434,"p":0.08,"m":-0.065},{"w":2440,"p":0.06,"m":-0.065},
{"w":2446,"p":0.07,"m":-0.06},{"w":2452,"p":0.055,"m":-0.075},{"w":2458,"p":0.065,"m":-0.07},{"w":2464,"p":0.075,"m":-0.055},{"w":2470,"p":0.065,"m":-0.07},{"w":2476,"p":0.07,"m":-0.065},{"w":2482,"p":0.06,"m":-0.08},{"w":2488,"p":0.075,"m":-0.06},{"w":2494,"p":0.055,"m":-0.07},{"w":2500,"p":0.07,"m":-0.065},
{"w":2506,"p":0.065,"m":-0.065},{"w":2512,"p":0.08,"m":-0.06},{"w":2518,"p":0.06,"m":-0.075},{"w":2524,"p":0.07,"m":-0.07},{"w":2530,"p":0.055,"m":-0.055},{"w":2536,"p":0.065,"m":-0.07},{"w":2542,"p":0.075,"m":-0.065},{"w":2548,"p":0.065,"m":-0.08},{"w":2554,"p":0.07,"m":-0.06},{"w":2560,"p":0.06,"m":-0.07},
{"w":2566,"p":0.075,"m":-0.065},{"w":2572,"p":0.055,"m":-0.065},{"w":2578,"p":0.07,"m":-0.06},{"w":2584,"p":0.065,"m":-0.075},{"w":2590,"p":0.08,"m":-0.07},{"w":2596,"p":0.06,"m":-0.055},{"w":2602,"p":0.07,"m":-0.07},{"w":2608,"p":0.055,"m":-0.065},{"w":2614,"p":0.065,"m":-0.08},{"w":2620,"p":0.075,"m":-0.06},
{"w":2626,"p":0.065,"m":-0.07},{"w":2632,"p":0.07,"m":-0.065},{"w":2638,"p":0.06,"m":-0.065},{"w":2644,"p":0.075,"m":-0.06},{"w":2650,"p":0.055,"m":-0.075},{"w":2656,"p":0.07,"m":-0.07},{"w":2662,"p":0.065,"m":-0.055},{"w":2668,"p":0.08,"m":-0.07},{"w":2674,"p":0.06,"m":-0.065},{"w":2680,"p":0.07,"m":-0.08},
{"w":2686,"p":0.055,"m":-0.06},{"w":2692,"p":0.065,"m":-0.07},{"w":2698,"p":0.075,"m":-0.065},{"w":2704,"p":0.065,"m":-0.065},{"w":2710,"p":0.07,"m":-0.06},{"w":2716,"p":0.06,"m":-0.075},{"w":2722,"p":0.075,"m":-0.07},{"w":2728,"p":0.055,"m":-0.055},{"w":2734,"p":0.07,"m":-0.07},{"w":2740,"p":0.065,"m":-0.065},
{"w":2746,"p":0.08,"m":-0.08},{"w":2752,"p":0.06,"m":-0.06},{"w":2758,"p":0.07,"m":-0.07},{"w":2764,"p":0.055,"m":-0.065},{"w":2770,"p":0.065,"m":-0.065},{"w":2776,"p":0.075,"m":-0.06},{"w":2782,"p":0.065,"m":-0.075},{"w":2788,"p":0.07,"m":-0.07},{"w":2794,"p":0.06,"m":-0.055},{"w":2800,"p":0.075,"m":-0.07}
]
},
"layer": [
 {"data": {"name": "sig"},
  "mark": {"type": "line", "strokeWidth": 1.6, "clip": true},
  "encoding": {
   "x": {"field": "w", "type": "quantitative", "title": "wavenumber [cm⁻¹]",
     "scale": {"domain": [570, 2803], "nice": false, "zero": false},
     "axis": {"values": [1000, 1500, 2000, 2500], "labelPadding": 13, "titlePadding": 16}},
   "y": {"field": "r", "type": "quantitative", "title": "Radiance [mW/ster/m² /cm⁻¹]",
     "scale": {"domain": [-5.28, 5.2], "nice": false, "zero": false},
     "axis": {"values": [-5, -4, -3, -2, -1, 0, 1, 2, 3, 4, 5], "labelPadding": 12, "titleX": -35, "titleY": 259}},
   "color": {"datum": "Unf-Fil",
     "scale": {"domain": ["Unf-Fil", "nedr"], "range": ["#0000ff", "#ff00ff"]},
     "legend": {"encode": {"symbols": {"update": {
         "shape": {"signal": "datum.value === 'nedr' ? 'diamond' : 'M-5,-0.12L5,-0.12L5,0.12L-5,0.12Z'"},
         "size": {"signal": "datum.value === 'nedr' ? 40 : 100"},
         "fill": {"signal": "datum.value === 'nedr' ? '#ff00ff' : '#0000ff'"},
         "stroke": {"value": "transparent"},
         "strokeWidth": {"value": 0}}}}}}
  }},
 {"data": {"name": "ne"},
  "mark": {"type": "point", "shape": "diamond", "filled": true, "size": 60, "opacity": 1, "clip": true},
  "encoding": {
   "x": {"field": "w", "type": "quantitative", "title": "wavenumber [cm⁻¹]"},
   "y": {"field": "p", "type": "quantitative", "title": "Radiance [mW/ster/m² /cm⁻¹]"},
   "color": {"datum": "nedr",
     "legend": {"encode": {"symbols": {"update": {
         "shape": {"signal": "datum.value === 'nedr' ? 'diamond' : 'M-5,-0.12L5,-0.12L5,0.12L-5,0.12Z'"},
         "size": {"signal": "datum.value === 'nedr' ? 40 : 100"},
         "fill": {"signal": "datum.value === 'nedr' ? '#ff00ff' : '#0000ff'"},
         "stroke": {"value": "transparent"},
         "strokeWidth": {"value": 0}}}}}}
  }},
 {"data": {"name": "ne"},
  "mark": {"type": "point", "shape": "diamond", "filled": true, "size": 60, "opacity": 1, "clip": true},
  "encoding": {
   "x": {"field": "w", "type": "quantitative", "title": "wavenumber [cm⁻¹]"},
   "y": {"field": "m", "type": "quantitative", "title": "Radiance [mW/ster/m² /cm⁻¹]"},
   "color": {"datum": "nedr",
     "legend": {"encode": {"symbols": {"update": {
         "shape": {"signal": "datum.value === 'nedr' ? 'diamond' : 'M-5,-0.12L5,-0.12L5,0.12L-5,0.12Z'"},
         "size": {"signal": "datum.value === 'nedr' ? 40 : 100"},
         "fill": {"signal": "datum.value === 'nedr' ? '#ff00ff' : '#0000ff'"},
         "stroke": {"value": "transparent"},
         "strokeWidth": {"value": 0}}}}}}
  }}
]
}
